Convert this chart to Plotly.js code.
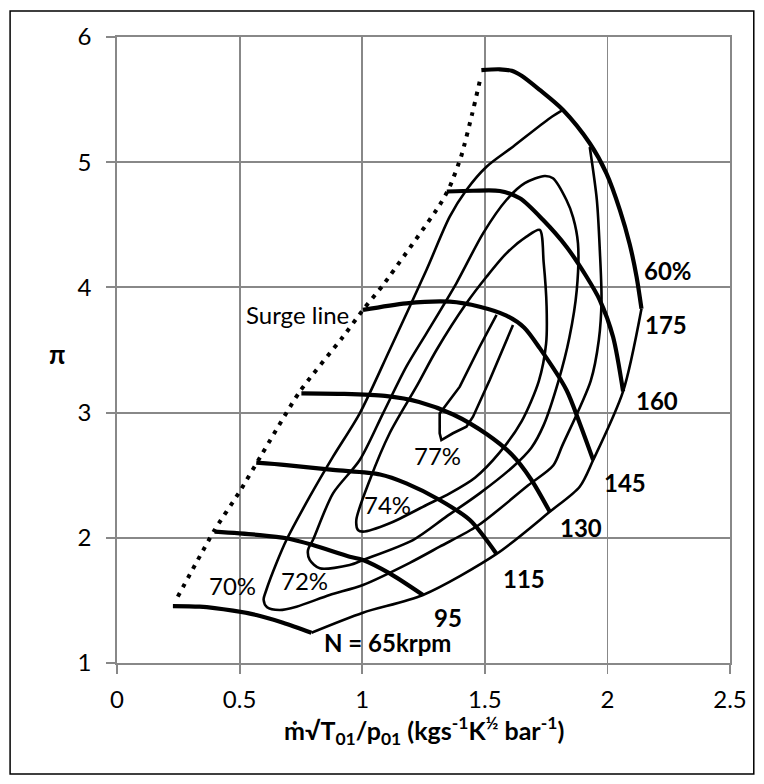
<!DOCTYPE html>
<html>
<head>
<meta charset="utf-8">
<script src="https://cdn.plot.ly/plotly-3.0.1.min.js"></script>
<style>
  html, body { margin: 0; padding: 0; background: #ffffff; }
  #chart { width: 764px; height: 784px; }
</style>
</head>
<body>
<div id="chart"></div>
<script>
// Centrifugal compressor map: pressure ratio against corrected mass flow,
// with constant-speed lines, efficiency islands and the surge line.

// Constant-speed lines (krpm)
const n65X  = [0.228, 0.337, 0.473, 0.568, 0.677, 0.793];
const n65Y  = [1.455, 1.450, 1.418, 1.383, 1.322, 1.242];
const n95X  = [0.398, 0.582, 0.691, 0.799, 0.949, 1.003, 1.112, 1.248];
const n95Y  = [2.049, 2.022, 1.996, 1.942, 1.849, 1.823, 1.716, 1.543];
const n115X = [0.568, 0.691, 0.881, 1.073, 1.180, 1.316, 1.439, 1.548];
const n115Y = [2.600, 2.581, 2.542, 2.506, 2.435, 2.302, 2.142, 1.871];
const n130X = [0.752, 0.914, 1.093, 1.232, 1.371, 1.510, 1.610, 1.689, 1.765];
const n130Y = [3.154, 3.150, 3.133, 3.085, 2.985, 2.825, 2.665, 2.466, 2.208];
const n145X = [1.003, 1.180, 1.357, 1.479, 1.588, 1.660, 1.724, 1.833, 1.887, 1.942];
const n145Y = [3.820, 3.873, 3.886, 3.846, 3.775, 3.680, 3.515, 3.181, 2.915, 2.621];
const n160X = [1.345, 1.452, 1.561, 1.643, 1.738, 1.833, 1.915, 1.969, 2.023, 2.064];
const n160Y = [4.766, 4.772, 4.770, 4.712, 4.538, 4.325, 4.085, 3.899, 3.606, 3.170];
const n175X = [1.486, 1.561, 1.610, 1.650, 1.724, 1.819, 1.928, 1.996, 2.051, 2.091, 2.119, 2.139];
const n175Y = [5.736, 5.742, 5.730, 5.690, 5.577, 5.417, 5.151, 4.911, 4.618, 4.345, 4.085, 3.830];

// 60 % efficiency line joining the ends of the speed lines
const eff60X = [0.793, 1.003, 1.248, 1.548, 1.765, 1.887, 1.942, 2.064, 2.139];
const eff60Y = [1.242, 1.402, 1.543, 1.871, 2.208, 2.408, 2.621, 3.170, 3.830];

// Efficiency islands
const eff70X = [1.819, 1.765, 1.615, 1.507, 1.425, 1.357, 1.262, 1.112, 0.990, 0.881, 0.786, 0.691,
                0.650, 0.609, 0.598, 0.612, 0.663, 0.732, 0.867, 1.003, 1.194, 1.316, 1.471, 1.677,
                1.779, 1.816, 1.932, 1.965, 1.976, 1.969, 1.957, 1.928];
const eff70Y = [5.417, 5.351, 5.124, 4.964, 4.778, 4.565, 4.139, 3.500, 2.994, 2.648, 2.328, 1.982,
                1.796, 1.583, 1.505, 1.445, 1.423, 1.450, 1.543, 1.623, 1.800, 1.929, 2.096, 2.419,
                2.577, 2.736, 3.254, 3.580, 3.899, 4.299, 4.698, 5.121];

const eff72X = [1.663, 1.588, 1.493, 1.384, 1.262, 1.180, 1.085, 0.990, 0.881, 0.799, 0.779, 0.786,
                0.827, 0.949, 1.003, 1.207, 1.343, 1.479, 1.615, 1.690, 1.740, 1.800, 1.845, 1.875,
                1.880, 1.860, 1.833, 1.778, 1.744, 1.663];
const eff72Y = [4.832, 4.698, 4.432, 4.033, 3.633, 3.367, 2.994, 2.621, 2.355, 1.982, 1.903, 1.823,
                1.756, 1.783, 1.823, 1.982, 2.169, 2.355, 2.568, 2.720, 2.900, 3.250, 3.600, 3.979,
                4.352, 4.560, 4.698, 4.872, 4.890, 4.832];

const eff74X = [1.724, 1.670, 1.588, 1.507, 1.425, 1.303, 1.221, 1.112, 1.031, 0.976, 0.983, 1.003,
                1.112, 1.262, 1.357, 1.460, 1.560, 1.650, 1.720, 1.750, 1.752, 1.740, 1.724];
const eff74Y = [4.459, 4.405, 4.272, 4.085, 3.873, 3.500, 3.207, 2.835, 2.462, 2.142, 2.062, 2.049,
                2.116, 2.262, 2.355, 2.480, 2.680, 2.930, 3.250, 3.550, 3.850, 4.200, 4.459];

const eff77X = [1.548, 1.479, 1.398, 1.316, 1.316, 1.323, 1.370, 1.425, 1.452, 1.520, 1.615];
const eff77Y = [3.780, 3.526, 3.207, 2.994, 2.835, 2.781, 2.835, 2.887, 2.967, 3.260, 3.700];

// Surge line
const surgeX = [0.248, 0.398, 0.500, 0.589, 0.745, 0.922, 1.003, 1.085, 1.316, 1.357, 1.404, 1.449, 1.479];
const surgeY = [1.530, 2.062, 2.368, 2.661, 3.167, 3.606, 3.820, 4.019, 4.658, 4.804, 5.049, 5.390, 5.643];

// Label texts
const speedLabels = ['N = 65krpm', '95', '115', '130', '145', '160', '175'];
const effLabels = ['60%', '70%', '72%', '74%', '77%'];
const surgeLabel = 'Surge line';

const FONT = 'Lato, "Noto Sans", "DejaVu Sans", sans-serif';
const GRID = '#888888';
const FS = 24;

function curve(x, y, width, opts) {
  return Object.assign({
    type: 'scatter', mode: 'lines', x: x, y: y, hoverinfo: 'skip',
    line: { color: '#000000', width: width, shape: 'spline', smoothing: 0.8 }
  }, opts || {});
}

const thin = 2.6, thick = 4.2;
const traces = [
  curve(eff60X, eff60Y, thin),
  curve(eff70X, eff70Y, thin),
  curve(eff72X, eff72Y, thin),
  curve(eff74X, eff74Y, thin),
  curve(eff77X, eff77Y, thin, { line: { color: '#000000', width: thin, shape: 'linear' } }),
  curve(surgeX, surgeY, 4, { line: { color: '#000000', width: 4, shape: 'spline', smoothing: 0.6, dash: '4px,6.5px' } }),
  curve(n65X, n65Y, thick),
  curve(n95X, n95Y, thick),
  curve(n115X, n115Y, thick),
  curve(n130X, n130Y, thick),
  curve(n145X, n145Y, thick),
  curve(n160X, n160Y, thick),
  curve(n175X, n175Y, thick)
];

function label(text, x, y, bold) {
  return {
    text: bold ? '<b>' + text + '</b>' : text,
    x: x, y: y, xref: 'x', yref: 'y', showarrow: false,
    xanchor: 'center', yanchor: 'middle',
    font: { family: FONT, size: FS, color: '#000000' }
  };
}

const annotations = [
  label(speedLabels[0], 1.104, 1.160, true),
  label(speedLabels[1], 1.348, 1.363, true),
  label(speedLabels[2], 1.658, 1.675, true),
  label(speedLabels[3], 1.891, 2.082, true),
  label(speedLabels[4], 2.070, 2.438, true),
  label(speedLabels[5], 2.201, 3.093, true),
  label(speedLabels[6], 2.237, 3.704, true),
  label(effLabels[0], 2.246, 4.135, true),
  label(effLabels[1], 0.470, 1.619, false),
  label(effLabels[2], 0.764, 1.659, false),
  label(effLabels[3], 1.102, 2.266, false),
  label(effLabels[4], 1.308, 2.657, false),
  label(surgeLabel, 0.738, 3.784, false),
  {
    text: '<b>π</b>', xref: 'paper', yref: 'paper', x: -0.0986, y: 0.4936,
    xanchor: 'center', yanchor: 'middle', showarrow: false,
    font: { family: FONT, size: 26, color: '#000000' }
  },
  {
    text: '<b>ṁ√T<sub>01</sub>/p<sub>01</sub> (kgs<sup>-1</sup>K<sup>½</sup> bar<sup>-1</sup>)</b>',
    xref: 'paper', yref: 'paper', x: 0.5, y: -0.1086,
    xanchor: 'center', yanchor: 'middle', showarrow: false,
    font: { family: FONT, size: 25, color: '#000000' }
  }
];

const axisCommon = {
  showgrid: true, gridcolor: GRID, gridwidth: 1.8,
  showline: true, linecolor: GRID, linewidth: 1.8, mirror: true,
  ticks: 'outside', ticklen: 9, tickwidth: 1.8, tickcolor: GRID,
  zeroline: false, fixedrange: true,
  tickfont: { family: FONT, size: FS, color: '#000000' }
};

const layout = {
  width: 764, height: 784,
  margin: { l: 117.4, r: 33.8, t: 37, b: 121 },
  paper_bgcolor: '#ffffff', plot_bgcolor: '#ffffff',
  showlegend: false,
  font: { family: FONT, size: FS, color: '#000000' },
  xaxis: Object.assign({}, axisCommon, { range: [0, 2.5], tick0: 0, dtick: 0.5, ticklabelstandoff: 5 }),
  yaxis: Object.assign({}, axisCommon, { range: [1, 6], tick0: 1, dtick: 1, ticklabelstandoff: 10 }),
  shapes: [{
    type: 'rect', xref: 'paper', yref: 'paper',
    x0: -0.1744, x1: 1.0388, y0: -0.1773, y1: 1.0415,
    line: { color: '#000000', width: 1.5 }, fillcolor: 'rgba(0,0,0,0)', layer: 'above'
  }],
  annotations: annotations
};

Plotly.newPlot('chart', traces, layout, { staticPlot: true, displayModeBar: false });
</script>
</body>
</html>
